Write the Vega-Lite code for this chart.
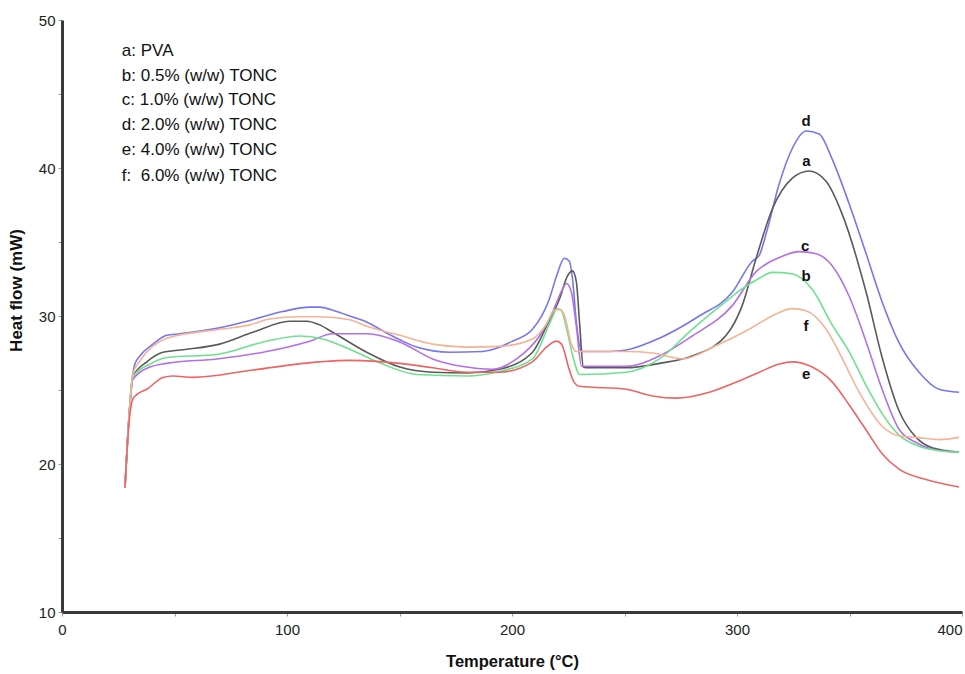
{
  "$schema": "https://vega.github.io/schema/vega-lite/v6.json",
  "width": 900,
  "height": 592,
  "autosize": {"type": "none"},
  "padding": {"left": 62, "top": 20, "right": 3, "bottom": 62},
  "background": "white",
  "config": {"view": {"stroke": null}, "font": "Liberation Sans"},
  "datasets": {
    "curves": [
      {"s":"d","T":28.0,"v":18.4},{"s":"d","T":29.7,"v":23.0},{"s":"d","T":31.5,"v":26.1},{"s":"d","T":32.4,"v":26.75},{"s":"d","T":34.6,"v":27.3},{"s":"d","T":40.4,"v":28.1},{"s":"d","T":46.6,"v":28.7},{"s":"d","T":52.4,"v":28.8},{"s":"d","T":70.1,"v":29.2},{"s":"d","T":83.5,"v":29.7},{"s":"d","T":98.1,"v":30.3},{"s":"d","T":110.1,"v":30.6},{"s":"d","T":114.5,"v":30.6},{"s":"d","T":122.1,"v":30.3},{"s":"d","T":127.9,"v":30.0},{"s":"d","T":135.4,"v":29.6},{"s":"d","T":142.5,"v":29.0},{"s":"d","T":150.1,"v":28.4},{"s":"d","T":157.6,"v":27.9},{"s":"d","T":172.3,"v":27.55},{"s":"d","T":186.9,"v":27.6},{"s":"d","T":200.2,"v":28.3},{"s":"d","T":209.1,"v":29.1},{"s":"d","T":216.6,"v":31.15},{"s":"d","T":219.8,"v":32.7},{"s":"d","T":223.3,"v":33.9},{"s":"d","T":225.5,"v":33.7},{"s":"d","T":226.9,"v":32.5},{"s":"d","T":228.6,"v":29.6},{"s":"d","T":230.9,"v":27.6},{"s":"d","T":243.3,"v":27.6},{"s":"d","T":250.8,"v":27.7},{"s":"d","T":265.5,"v":28.5},{"s":"d","T":283.2,"v":30.0},{"s":"d","T":297.9,"v":31.6},{"s":"d","T":306.8,"v":33.7},{"s":"d","T":309.9,"v":34.1},{"s":"d","T":313.0,"v":35.6},{"s":"d","T":318.8,"v":38.95},{"s":"d","T":324.5,"v":41.3},{"s":"d","T":330.7,"v":42.5},{"s":"d","T":336.5,"v":42.3},{"s":"d","T":342.3,"v":40.6},{"s":"d","T":349.8,"v":37.6},{"s":"d","T":357.4,"v":34.2},{"s":"d","T":364.5,"v":30.95},{"s":"d","T":372.0,"v":28.2},{"s":"d","T":380.9,"v":26.2},{"s":"d","T":389.8,"v":25.05},{"s":"d","T":398.7,"v":24.85},

      {"s":"a","T":28.0,"v":18.4},{"s":"a","T":29.7,"v":23.0},{"s":"a","T":31.5,"v":25.9},{"s":"a","T":37.7,"v":26.9},{"s":"a","T":44.8,"v":27.55},{"s":"a","T":55.5,"v":27.75},{"s":"a","T":70.1,"v":28.1},{"s":"a","T":84.8,"v":28.9},{"s":"a","T":101.2,"v":29.65},{"s":"a","T":108.8,"v":29.65},{"s":"a","T":114.5,"v":29.4},{"s":"a","T":120.3,"v":28.9},{"s":"a","T":135.4,"v":27.55},{"s":"a","T":150.1,"v":26.55},{"s":"a","T":164.7,"v":26.2},{"s":"a","T":179.8,"v":26.15},{"s":"a","T":194.4,"v":26.4},{"s":"a","T":209.1,"v":27.55},{"s":"a","T":215.3,"v":29.3},{"s":"a","T":221.1,"v":31.15},{"s":"a","T":224.6,"v":32.7},{"s":"a","T":226.9,"v":33.05},{"s":"a","T":228.6,"v":32.3},{"s":"a","T":230.0,"v":29.6},{"s":"a","T":231.7,"v":26.55},{"s":"a","T":233.1,"v":26.5},{"s":"a","T":250.8,"v":26.5},{"s":"a","T":265.5,"v":26.8},{"s":"a","T":280.1,"v":27.3},{"s":"a","T":295.2,"v":28.7},{"s":"a","T":302.3,"v":30.7},{"s":"a","T":308.5,"v":33.9},{"s":"a","T":315.6,"v":37.2},{"s":"a","T":324.5,"v":39.3},{"s":"a","T":332.1,"v":39.8},{"s":"a","T":339.6,"v":39.1},{"s":"a","T":346.7,"v":36.9},{"s":"a","T":357.4,"v":31.6},{"s":"a","T":364.5,"v":27.2},{"s":"a","T":372.0,"v":23.6},{"s":"a","T":379.6,"v":21.8},{"s":"a","T":386.7,"v":21.1},{"s":"a","T":398.7,"v":20.8},

      {"s":"c","T":28.0,"v":18.4},{"s":"c","T":29.7,"v":23.0},{"s":"c","T":31.5,"v":25.7},{"s":"c","T":39.1,"v":26.55},{"s":"c","T":46.6,"v":26.8},{"s":"c","T":68.8,"v":27.1},{"s":"c","T":91.0,"v":27.6},{"s":"c","T":110.1,"v":28.3},{"s":"c","T":120.3,"v":28.8},{"s":"c","T":135.4,"v":28.8},{"s":"c","T":150.1,"v":28.25},{"s":"c","T":164.7,"v":27.1},{"s":"c","T":179.8,"v":26.55},{"s":"c","T":191.3,"v":26.4},{"s":"c","T":202.0,"v":27.1},{"s":"c","T":212.2,"v":28.65},{"s":"c","T":218.0,"v":30.25},{"s":"c","T":222.4,"v":31.8},{"s":"c","T":224.2,"v":32.2},{"s":"c","T":226.4,"v":31.6},{"s":"c","T":228.6,"v":29.3},{"s":"c","T":230.9,"v":26.6},{"s":"c","T":250.8,"v":26.6},{"s":"c","T":265.5,"v":27.3},{"s":"c","T":280.1,"v":28.65},{"s":"c","T":297.9,"v":30.7},{"s":"c","T":308.5,"v":33.0},{"s":"c","T":318.8,"v":33.95},{"s":"c","T":327.6,"v":34.35},{"s":"c","T":335.2,"v":34.2},{"s":"c","T":342.3,"v":33.4},{"s":"c","T":349.8,"v":31.35},{"s":"c","T":357.4,"v":28.25},{"s":"c","T":364.5,"v":25.05},{"s":"c","T":372.0,"v":22.35},{"s":"c","T":379.6,"v":21.45},{"s":"c","T":386.7,"v":21.0},{"s":"c","T":398.7,"v":20.8},

      {"s":"b","T":28.0,"v":18.4},{"s":"b","T":29.7,"v":23.0},{"s":"b","T":31.5,"v":25.9},{"s":"b","T":39.1,"v":26.75},{"s":"b","T":46.6,"v":27.2},{"s":"b","T":68.8,"v":27.4},{"s":"b","T":91.0,"v":28.3},{"s":"b","T":105.7,"v":28.65},{"s":"b","T":115.9,"v":28.45},{"s":"b","T":127.9,"v":27.75},{"s":"b","T":142.5,"v":26.75},{"s":"b","T":157.6,"v":26.05},{"s":"b","T":179.8,"v":25.95},{"s":"b","T":194.4,"v":26.25},{"s":"b","T":209.1,"v":27.1},{"s":"b","T":216.6,"v":29.45},{"s":"b","T":220.2,"v":30.5},{"s":"b","T":222.0,"v":30.35},{"s":"b","T":224.6,"v":28.9},{"s":"b","T":227.7,"v":26.9},{"s":"b","T":230.0,"v":26.05},{"s":"b","T":250.8,"v":26.2},{"s":"b","T":265.5,"v":27.1},{"s":"b","T":280.1,"v":29.1},{"s":"b","T":295.2,"v":31.0},{"s":"b","T":301.0,"v":31.7},{"s":"b","T":309.9,"v":32.55},{"s":"b","T":315.6,"v":32.95},{"s":"b","T":324.5,"v":32.85},{"s":"b","T":333.4,"v":31.8},{"s":"b","T":342.3,"v":29.4},{"s":"b","T":349.8,"v":27.6},{"s":"b","T":357.4,"v":25.3},{"s":"b","T":364.5,"v":23.4},{"s":"b","T":372.0,"v":21.95},{"s":"b","T":380.9,"v":21.2},{"s":"b","T":389.8,"v":20.9},{"s":"b","T":398.7,"v":20.8},

      {"s":"f","T":28.0,"v":18.4},{"s":"f","T":29.7,"v":23.0},{"s":"f","T":31.5,"v":26.1},{"s":"f","T":34.6,"v":26.95},{"s":"f","T":46.6,"v":28.5},{"s":"f","T":70.1,"v":29.1},{"s":"f","T":83.5,"v":29.4},{"s":"f","T":92.3,"v":29.8},{"s":"f","T":105.7,"v":29.95},{"s":"f","T":114.5,"v":29.95},{"s":"f","T":127.9,"v":29.75},{"s":"f","T":135.4,"v":29.3},{"s":"f","T":150.1,"v":28.7},{"s":"f","T":164.7,"v":28.1},{"s":"f","T":179.8,"v":27.9},{"s":"f","T":194.4,"v":27.95},{"s":"f","T":209.1,"v":28.45},{"s":"f","T":215.3,"v":29.45},{"s":"f","T":218.9,"v":30.4},{"s":"f","T":221.1,"v":30.45},{"s":"f","T":223.3,"v":30.05},{"s":"f","T":226.4,"v":28.1},{"s":"f","T":228.6,"v":27.6},{"s":"f","T":250.8,"v":27.6},{"s":"f","T":262.4,"v":27.5},{"s":"f","T":275.7,"v":27.1},{"s":"f","T":290.8,"v":28.0},{"s":"f","T":305.4,"v":29.1},{"s":"f","T":315.6,"v":30.0},{"s":"f","T":324.5,"v":30.5},{"s":"f","T":330.7,"v":30.35},{"s":"f","T":339.6,"v":29.1},{"s":"f","T":345.4,"v":27.55},{"s":"f","T":354.3,"v":24.85},{"s":"f","T":364.5,"v":22.55},{"s":"f","T":372.0,"v":21.9},{"s":"f","T":379.6,"v":21.8},{"s":"f","T":389.8,"v":21.65},{"s":"f","T":398.7,"v":21.8},

      {"s":"e","T":28.0,"v":18.4},{"s":"e","T":29.7,"v":22.6},{"s":"e","T":31.5,"v":24.4},{"s":"e","T":33.3,"v":24.7},{"s":"e","T":37.7,"v":25.05},{"s":"e","T":44.8,"v":25.85},{"s":"e","T":49.3,"v":25.95},{"s":"e","T":58.2,"v":25.85},{"s":"e","T":84.8,"v":26.35},{"s":"e","T":114.5,"v":26.9},{"s":"e","T":127.9,"v":27.0},{"s":"e","T":150.1,"v":26.8},{"s":"e","T":164.7,"v":26.5},{"s":"e","T":179.8,"v":26.2},{"s":"e","T":194.4,"v":26.2},{"s":"e","T":209.1,"v":26.9},{"s":"e","T":215.3,"v":27.9},{"s":"e","T":219.8,"v":28.3},{"s":"e","T":222.0,"v":28.1},{"s":"e","T":225.5,"v":26.35},{"s":"e","T":227.7,"v":25.5},{"s":"e","T":230.0,"v":25.25},{"s":"e","T":250.8,"v":25.05},{"s":"e","T":262.4,"v":24.6},{"s":"e","T":273.0,"v":24.45},{"s":"e","T":287.7,"v":24.85},{"s":"e","T":302.3,"v":25.7},{"s":"e","T":309.9,"v":26.2},{"s":"e","T":318.8,"v":26.75},{"s":"e","T":324.5,"v":26.9},{"s":"e","T":333.4,"v":26.55},{"s":"e","T":342.3,"v":25.55},{"s":"e","T":349.8,"v":24.0},{"s":"e","T":357.4,"v":22.3},{"s":"e","T":364.5,"v":20.7},{"s":"e","T":372.0,"v":19.65},{"s":"e","T":384.0,"v":18.95},{"s":"e","T":398.7,"v":18.45}
    ],
    "labels": [
      {"label":"d","T":330.7,"v":43.2},
      {"label":"a","T":330.9,"v":40.5},
      {"label":"c","T":330.3,"v":34.75},
      {"label":"b","T":330.7,"v":32.7},
      {"label":"f","T":330.7,"v":29.3},
      {"label":"e","T":330.7,"v":26.1}
    ],
    "legend": [
      {"text":"a: PVA","T":26.6,"v":47.9},
      {"text":"b: 0.5% (w/w) TONC","T":26.6,"v":46.2},
      {"text":"c: 1.0% (w/w) TONC","T":26.6,"v":44.58},
      {"text":"d: 2.0% (w/w) TONC","T":26.6,"v":42.88},
      {"text":"e: 4.0% (w/w) TONC","T":26.6,"v":41.19},
      {"text":"f:\u00a0 6.0% (w/w) TONC","T":26.6,"v":39.49}
    ]
  },
  "layer": [
    {
      "data": {"name": "curves"},
      "mark": {"type": "line", "interpolate": "monotone", "strokeWidth": 1.6},
      "encoding": {
        "x": {
          "field": "T", "type": "quantitative",
          "scale": {"domain": [0, 400], "nice": false, "zero": false},
          "axis": {
            "title": "Temperature (°C)",
            "values": [0, 50, 100, 150, 200, 250, 300, 350, 400],
            "labelExpr": "datum.value % 100 === 0 ? datum.label : ''",
            "labelAlign": {"condition": {"test": "datum.value === 400", "value": "right"}, "value": "center"},
            "grid": false, "labelFlush": false, "labelOverlap": false,
            "domainColor": "#3a3a3a", "domainWidth": 3,
            "tickColor": "#9a9a9a", "tickSize": 4, "tickWidth": 1,
            "labelFontSize": 15, "labelColor": "#222222", "labelPadding": 6,
            "titleFontSize": 16.5, "titleFontWeight": "bold", "titleColor": "#111111",
            "titleY": 41
          }
        },
        "y": {
          "field": "v", "type": "quantitative",
          "scale": {"domain": [10, 50], "nice": false, "zero": false},
          "axis": {
            "title": "Heat flow (mW)",
            "values": [10, 15, 20, 25, 30, 35, 40, 45, 50],
            "labelExpr": "datum.value % 10 === 0 ? datum.label : ''",
            "grid": false, "labelFlush": false, "labelOverlap": false,
            "domainColor": "#3a3a3a", "domainWidth": 3,
            "tickColor": "#9a9a9a", "tickSize": 4, "tickWidth": 1,
            "labelFontSize": 15, "labelColor": "#222222", "labelPadding": 3,
            "titleFontSize": 17, "titleFontWeight": "bold", "titleColor": "#111111",
            "titleX": -37, "titleY": 270
          }
        },
        "color": {
          "field": "s", "type": "nominal",
          "scale": {"domain": ["a", "b", "c", "d", "e", "f"], "range": ["#5a5a5a", "#6fe08f", "#b46ee6", "#7676ee", "#ee6464", "#f3b394"]},
          "legend": null
        }
      }
    },
    {
      "data": {"name": "labels"},
      "mark": {"type": "text", "fontWeight": "bold", "fontSize": 15, "align": "center", "baseline": "middle", "color": "#111111"},
      "encoding": {
        "x": {"field": "T", "type": "quantitative"},
        "y": {"field": "v", "type": "quantitative"},
        "text": {"field": "label"}
      }
    },
    {
      "data": {"name": "legend"},
      "mark": {"type": "text", "fontSize": 17, "align": "left", "baseline": "middle", "color": "#111111"},
      "encoding": {
        "x": {"field": "T", "type": "quantitative"},
        "y": {"field": "v", "type": "quantitative"},
        "text": {"field": "text"}
      }
    }
  ]
}
